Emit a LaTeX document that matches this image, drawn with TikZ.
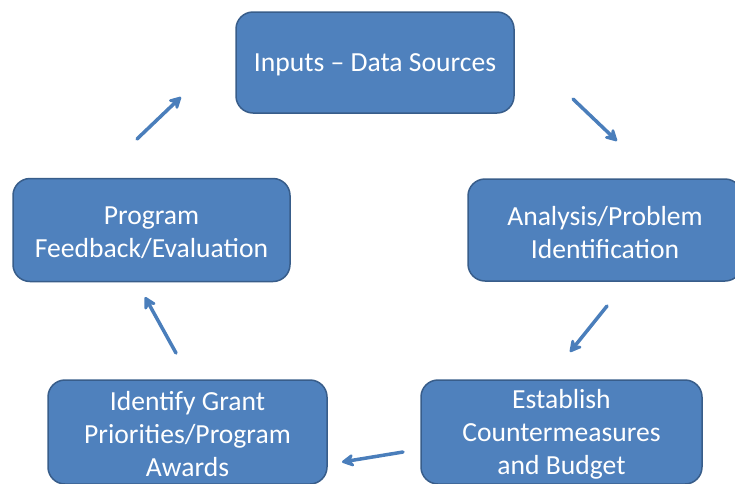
\documentclass[tikz,border=0pt]{standalone}
\usepackage{fontspec}
\setmainfont{Carlito}
\usetikzlibrary{arrows.meta}
\definecolor{boxfill}{HTML}{4F81BD}
\definecolor{boxline}{HTML}{385D8A}
\definecolor{arrowcol}{HTML}{4A7EBB}
\begin{document}
\begin{tikzpicture}[x=1pt,y=-1pt,
  stepbox/.style={draw=boxline, line width=1.5pt, fill=boxfill, rounded corners=17pt, inner sep=0pt},
  boxlabel/.style={text=white, align=center, inner sep=0pt, yshift=-2.5pt,
    font=\fontsize{27.6}{33}\selectfont},
  boxtext/.style={label={[boxlabel]center:{#1}}},
  flowarrow/.style={draw=arrowcol, line width=3.5pt, line cap=round,
    -{Stealth[length=15pt,width=16pt,inset=5pt,round]}}]
\useasboundingbox (0,0) rectangle (735,483);
\clip (0,0) rectangle (735,483);
\node[stepbox, minimum width=278pt, minimum height=101pt, boxtext={Inputs -- Data Sources}] (in) at (375,62.5) {};
\node[stepbox, minimum width=274pt, minimum height=102pt, boxtext={Analysis/Problem\\Identification}] (an) at (605,230) {};
\node[stepbox, minimum width=281pt, minimum height=104pt, boxtext={Establish\\Countermeasures\\and Budget}] (es) at (561.5,432) {};
\node[stepbox, minimum width=279pt, minimum height=104pt, boxtext={Identify Grant\\Priorities/Program\\Awards}] (id) at (187.5,432) {};
\node[stepbox, minimum width=277pt, minimum height=103pt, boxtext={Program\\Feedback/Evaluation}] (pf) at (151.5,230) {};
\coordinate (a1s) at (137,139); \coordinate (a1e) at (181,97);
\coordinate (a2s) at (573,99);  \coordinate (a2e) at (617,141);
\coordinate (a3s) at (607,306); \coordinate (a3e) at (570,352);
\coordinate (a4s) at (403,452); \coordinate (a4e) at (342,462);
\coordinate (a5s) at (176,353); \coordinate (a5e) at (145,297);
\draw[flowarrow] (a1s) -- (a1e);
\draw[flowarrow] (a2s) -- (a2e);
\draw[flowarrow] (a3s) -- (a3e);
\draw[flowarrow] (a4s) -- (a4e);
\draw[flowarrow] (a5s) -- (a5e);
\end{tikzpicture}
\end{document}
